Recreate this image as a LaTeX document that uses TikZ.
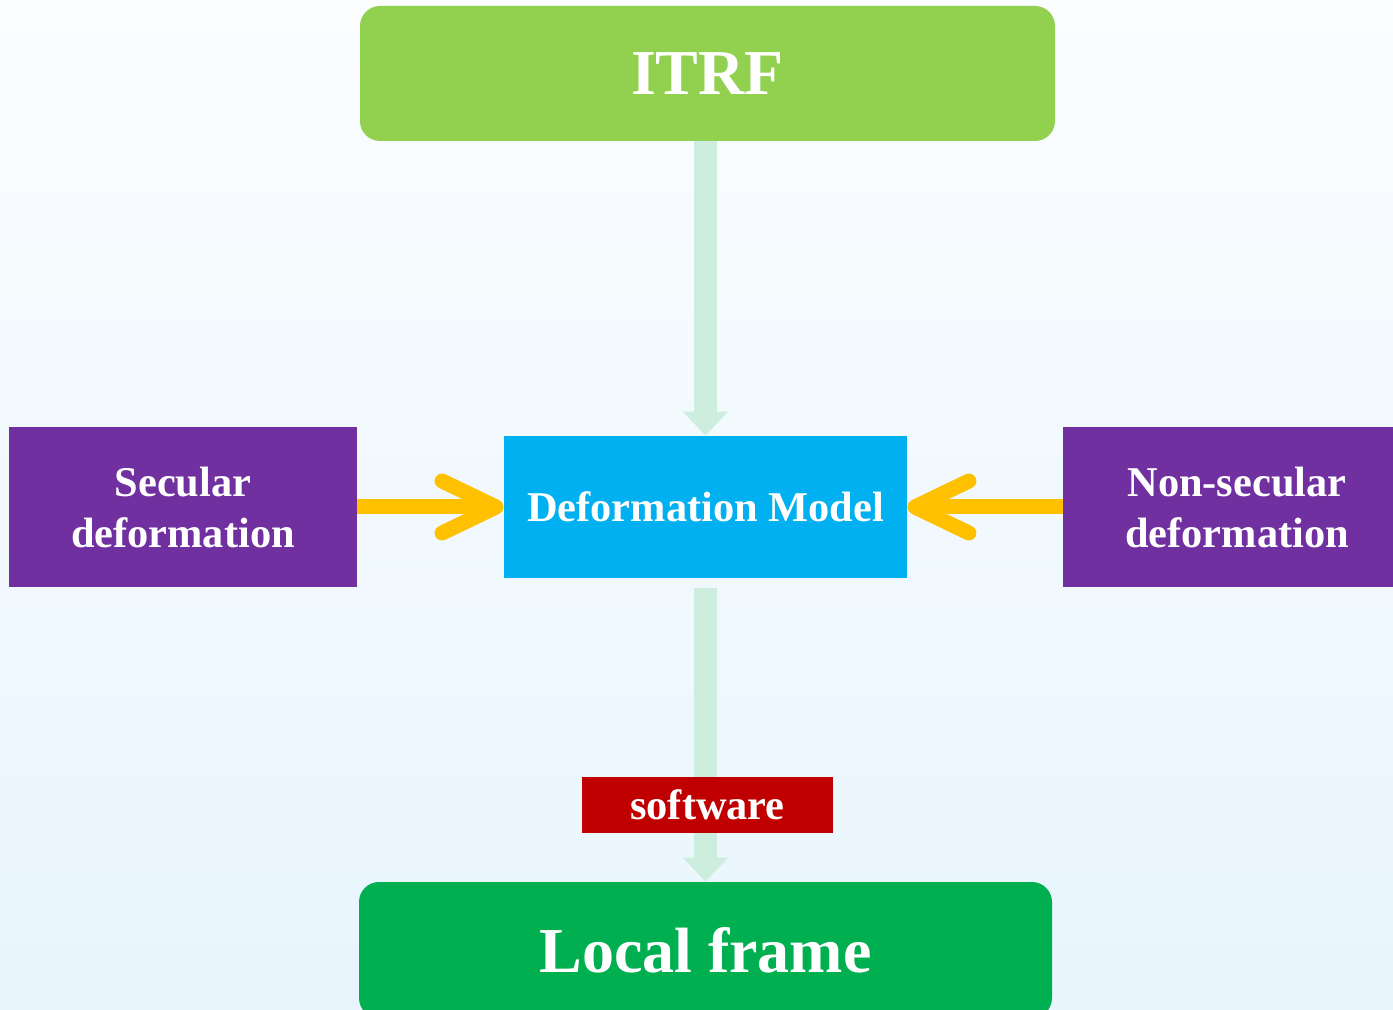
\documentclass[tikz,border=0pt]{standalone}
\usepackage{fontspec}
\setmainfont{Liberation Serif}
\usetikzlibrary{arrows.meta}
\definecolor{itrfgreen}{HTML}{92D050}
\definecolor{localgreen}{HTML}{00B050}
\definecolor{modelblue}{HTML}{00B0F0}
\definecolor{defpurple}{HTML}{7030A0}
\definecolor{swred}{HTML}{C00000}
\definecolor{mint}{HTML}{CDEEDF}
\definecolor{gold}{HTML}{FFC000}
\definecolor{bgtop}{HTML}{FBFDFF}
\definecolor{bgbottom}{HTML}{E8F5FD}
\begin{document}
\begin{tikzpicture}[x=0.5pt,y=-0.5pt,
  box/.style={text=white,inner sep=0pt,align=center,font=\bfseries\fontsize{21.2}{25.5}\selectfont},
  bigbox/.style={box,rounded corners=10pt,font=\bfseries\fontsize{32}{38}\selectfont},
  flow/.style={mint,line width=11.5pt,-{Triangle[width=22pt,length=12pt]}},
  feed/.style={gold,line width=7.5pt,-{Straight Barb[length=27pt,width=26pt,round]}}]
\clip (0,0) rectangle (1393,1010);
\shade[top color=bgtop,bottom color=bgbottom] (0,0) rectangle (1393,1010);
\node[bigbox,fill=itrfgreen,minimum width=347.5pt,minimum height=67.5pt] (itrf) at (707.5,73.5) {ITRF};
\node[box,fill=modelblue,minimum width=201.5pt,minimum height=71pt] (model) at (705.5,507) {Deformation Model};
\node[box,fill=defpurple,minimum width=174pt,minimum height=80pt] (sec) at (183,507) {Secular\\deformation};
\node[box,fill=defpurple,minimum width=174pt,minimum height=80pt] (nonsec) at (1237,507) {Non-secular\\deformation};
\node[bigbox,fill=localgreen,minimum width=346.5pt,minimum height=68pt] (local) at (705.5,950) {Local frame};
\draw[flow] (model.north |- itrf.south) -- (model.north);
\draw[flow,shorten <=5pt] (model.south) -- (local.north);
\node[box,fill=swred,minimum width=125.5pt,minimum height=28pt] (soft) at (707.5,805) {software};
\draw[feed] (sec.east) -- (model.west);
\draw[feed] (nonsec.west) -- (model.east);
\end{tikzpicture}
\end{document}
